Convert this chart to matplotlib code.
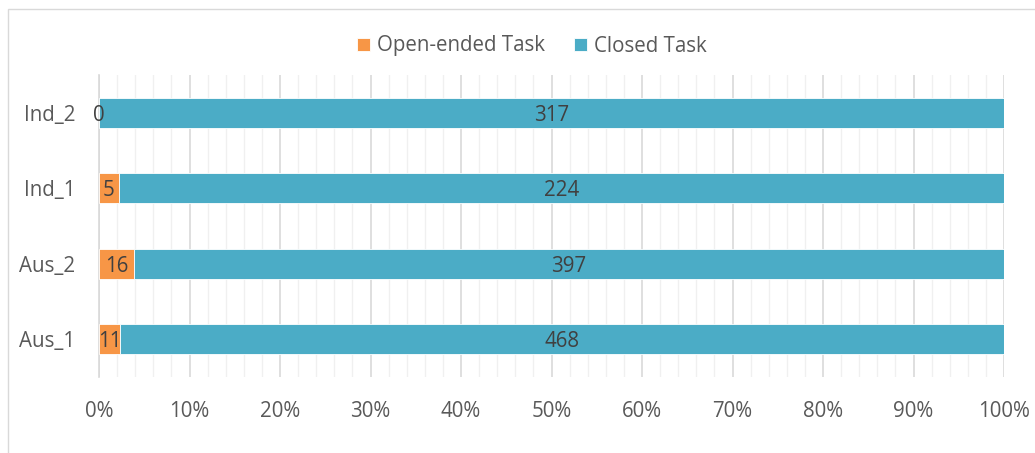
import matplotlib
matplotlib.use("Agg")
import matplotlib.pyplot as plt
from matplotlib.ticker import MultipleLocator
from matplotlib.patches import Rectangle
import numpy as np

categories = ["Aus_1", "Aus_2", "Ind_1", "Ind_2"]
open_ended = [11, 16, 5, 0]
closed = [468, 397, 224, 317]
series_names = ["Open-ended Task", "Closed Task"]
xtick_labels = ["0%", "10%", "20%", "30%", "40%", "50%", "60%", "70%", "80%", "90%", "100%"]

plt.rcParams['font.family'] = ['Open Sans', 'DejaVu Sans']
TXT = "#595959"
ORANGE = "#F79646"
BLUE = "#4BACC6"
FS = 14.8

W, H = 1035, 453
fig = plt.figure(figsize=(W/100, H/100), dpi=100)
ax = fig.add_axes([99/W, 1-377/H, (1004-99)/W, (377-75)/H])

fig.patches.append(Rectangle((8/W, -0.1), 1.2, 1-9/H+0.1, transform=fig.transFigure,
                             fill=False, edgecolor="#D9D9D9", linewidth=1))

o = np.array(open_ended, float)
c = np.array(closed, float)
tot = o + c
op = o / tot * 100
cp = c / tot * 100
y = np.arange(len(categories))

b1 = ax.barh(y, op, height=0.4, color=ORANGE, edgecolor="#FFFFFF", linewidth=0.6, label=series_names[0], zorder=3)
b2 = ax.barh(y, cp, left=op, height=0.4, color=BLUE, edgecolor="#FFFFFF", linewidth=0.6, label=series_names[1], zorder=3)

for i in range(len(categories)):
    ax.text(op[i]/2, y[i], str(open_ended[i]), ha="center", va="center_baseline", color="#404040", fontsize=FS, zorder=4)
    ax.text(op[i] + cp[i]/2, y[i], str(closed[i]), ha="center", va="center_baseline", color="#404040", fontsize=FS, zorder=4)

ax.set_xlim(0, 100)
ax.set_ylim(-0.5, len(categories)-0.5)
ax.xaxis.set_minor_locator(MultipleLocator(2))
ax.set_xticks(np.arange(0, 101, 10))
ax.set_xticklabels(xtick_labels)
ax.set_yticks(y)
ax.set_yticklabels(categories)
ax.grid(axis="x", which="major", color="#D9D9D9", linewidth=1.2, zorder=0)
ax.grid(axis="x", which="minor", color="#F0F0F0", linewidth=1, zorder=0)
for s in ["top", "right", "bottom"]:
    ax.spines[s].set_visible(False)
ax.spines["left"].set_color("#D9D9D9")
ax.spines["left"].set_linewidth(1.2)
ax.tick_params(axis="both", which="both", length=0, colors=TXT, labelsize=FS)
ax.tick_params(axis="x", pad=17)
ax.tick_params(axis="y", pad=17)

leg = fig.legend(handles=[b1, b2], labels=series_names, loc="center", bbox_to_anchor=(532/W, 1-46/H),
                 ncol=2, frameon=False, fontsize=FS, handlelength=0.62, handleheight=0.62,
                 handletextpad=0.35, columnspacing=1.4)
for t in leg.get_texts():
    t.set_color(TXT)

fig.savefig("out.png", dpi=100, facecolor="white")
